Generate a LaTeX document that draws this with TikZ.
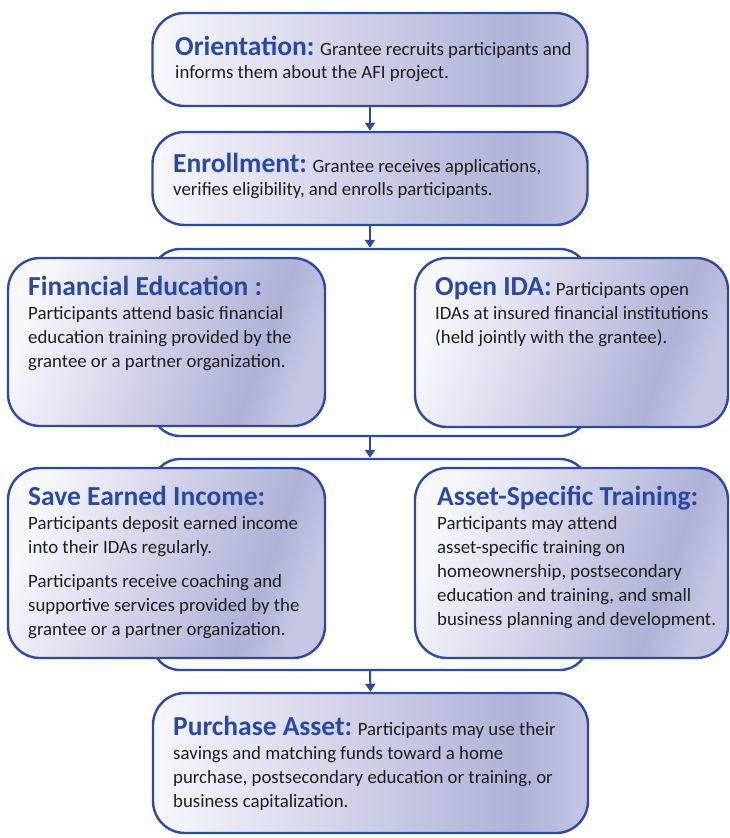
\documentclass[tikz,border=0pt]{standalone}
\usepackage{fontspec}
\setmainfont{Carlito}
\newfontfamily\titlefont{Carlito}
\usetikzlibrary{arrows.meta,shadings}
\definecolor{bordblue}{HTML}{2D4A9E}
\definecolor{titleblue}{HTML}{2A4AA0}
\definecolor{txt}{HTML}{1E1E1E}
\definecolor{shA}{HTML}{F7F7FC}
\definecolor{shB}{HTML}{AFB1D7}
\definecolor{shC}{HTML}{C4C6E3}
\pgfdeclarehorizontalshading{boxshade}{100bp}{color(0bp)=(shA); color(25bp)=(shA); color(67bp)=(shB); color(75bp)=(shC); color(100bp)=(shC)}
\newcommand{\ttl}[1]{\leavevmode{\titlefont\fontsize{27.5}{24}\selectfont\bfseries\color{titleblue}#1}}
\tikzset{
  box/.style={draw=bordblue, line width=2.4pt, rounded corners=32pt, shade, shading=boxshade, inner sep=0pt, rectangle},
  pairbox/.style={box, shading angle=-20},
  bgbox/.style={draw=bordblue, line width=2.4pt, rounded corners=28pt, fill=white, inner sep=0pt, rectangle},
  arr/.style={draw=bordblue, line width=2pt, -{Triangle[width=10pt,length=8pt]}},
  body/.style={anchor=base west, inner sep=0pt, text=txt, font=\fontsize{18.8}{24}\selectfont},
  bodyt/.style={body, font=\fontsize{18.8}{23}\selectfont}
}
\begin{document}
\begin{tikzpicture}[x=1pt,y=-1pt]
\useasboundingbox (0,0) rectangle (730,838);
% background pair frames
\node[bgbox, minimum width=436pt, minimum height=187pt] (bg1) at (370,342.5) {};
\node[bgbox, minimum width=436pt, minimum height=211pt] (bg2) at (370,564.5) {};
% boxes
\node[box, minimum width=435pt, minimum height=93pt] (ori) at (370,59.5) {};
\node[box, minimum width=435pt, minimum height=93pt] (enr) at (370,178.5) {};
\node[pairbox, minimum width=317pt, minimum height=168pt] (fin) at (166.5,342) {};
\node[pairbox, minimum width=313pt, minimum height=169pt] (ida) at (571.5,342.5) {};
\node[pairbox, minimum width=317pt, minimum height=190pt] (sav) at (166.5,563) {};
\node[pairbox, minimum width=313pt, minimum height=190pt] (ast) at (571.5,563) {};
\node[box, minimum width=435pt, minimum height=140pt] (pur) at (370.5,763) {};
% arrows
\draw[arr] (ori.south) -- (enr.north);
\draw[arr] (enr.south) -- (bg1.north);
\draw[arr] (bg1.south) -- (bg2.north);
\draw[arr] (bg2.south) -- (pur.north);
% texts
\node[bodyt] (tori) at (175,55) {\parbox[t]{420pt}{\raggedright\ttl{Orientation:} Grantee recruits participants and\\ informs them about the AFI project.}};
\node[bodyt] (tenr) at (173,172) {\parbox[t]{420pt}{\raggedright\ttl{Enrollment:} Grantee receives applications,\\ verifies eligibility, and enrolls participants.}};
\node[body] (tfin) at (28,295) {\parbox[t]{300pt}{\raggedright\ttl{Financial Education :}\\ Participants attend basic financial\\ education training provided by the\\ grantee or a partner organization.}};
\node[body] (tida) at (435,295) {\parbox[t]{300pt}{\raggedright\ttl{Open IDA:} Participants open\\ IDAs at insured financial institutions\\ (held jointly with the grantee).}};
\node[body] (tsav) at (28,505) {\parbox[t]{300pt}{\raggedright\ttl{Save Earned Income:}\\ Participants deposit earned income\\ into their IDAs regularly.\\[10pt] Participants receive coaching and\\ supportive services provided by the\\ grantee or a partner organization.}};
\node[body] (tast) at (437,505) {\parbox[t]{300pt}{\raggedright\ttl{Asset-Specific Training:}\\ Participants may attend\\ asset-specific training on\\ homeownership, postsecondary\\ education and training, and small\\ business planning and development.}};
\node[body] (tpur) at (173,735) {\parbox[t]{420pt}{\raggedright\ttl{Purchase Asset:} Participants may use their\\ savings and matching funds toward a home\\ purchase, postsecondary education or training, or\\ business capitalization.}};
\end{tikzpicture}
\end{document}
